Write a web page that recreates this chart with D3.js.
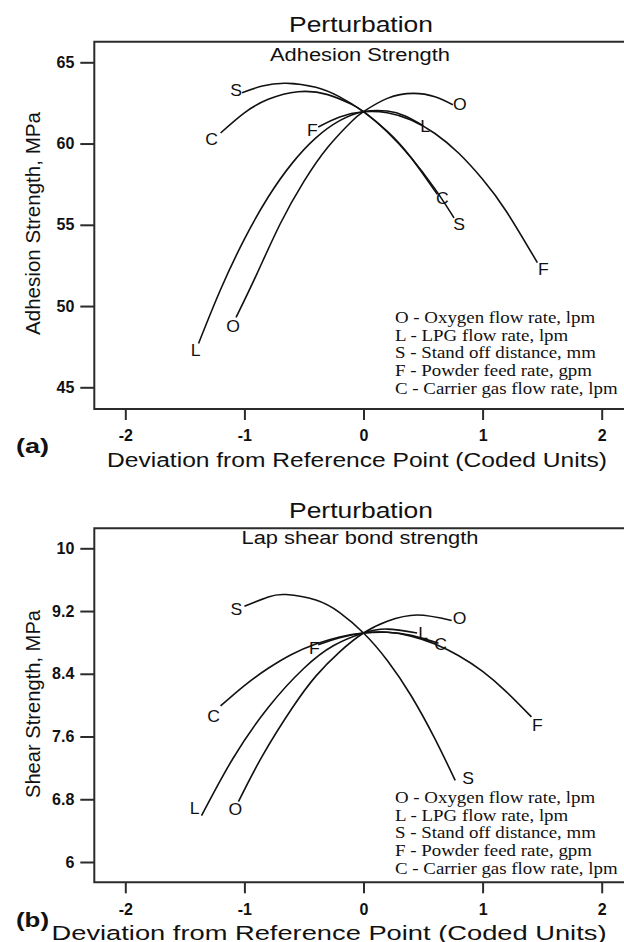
<!DOCTYPE html>
<html>
<head>
<meta charset="utf-8">
<script src="https://cdn.jsdelivr.net/npm/d3@7"></script>
<style>
  html, body { margin: 0; padding: 0; background: #fff; }
  svg { display: block; }
</style>
</head>
<body>
<svg id="chart" width="624" height="942"></svg>
<script>
// ---- data -------------------------------------------------------------
// deviation from the reference point, coded units
const xTicks = [-2, -1, 0, 1, 2];

const factorCodes = ["O", "L", "S", "F", "C"];
const factorNames = [
  "Oxygen flow rate, lpm",
  "LPG flow rate, lpm",
  "Stand off distance, mm",
  "Powder feed rate, gpm",
  "Carrier gas flow rate, lpm"
];

// (a) adhesion strength, MPa  [coded deviation, response]
const adhesionTicks = [45, 50, 55, 60, 65];
const adhesionO = [[-1.07, 49.3], [-0.9, 51.9], [-0.7, 55.05], [-0.5, 57.67], [-0.3, 59.77], [-0.1, 61.36], [0, 61.96], [0.2, 62.78], [0.42, 63.09], [0.6, 62.88], [0.75, 62.39]];
const adhesionL = [[-1.385, 47.7], [-1.2, 51.02], [-1.0, 54.12], [-0.8, 56.71], [-0.6, 58.78], [-0.4, 60.35], [-0.2, 61.41], [0, 61.96], [0.2, 62.0], [0.35, 61.69], [0.5, 61.1]];
const adhesionS = [[-1.02, 63.13], [-0.85, 63.54], [-0.65, 63.71], [-0.4, 63.46], [-0.2, 62.87], [0, 61.96], [0.2, 60.71], [0.4, 59.13], [0.6, 57.21], [0.76, 55.43]];
const adhesionF = [[-0.38, 61.02], [-0.2, 61.64], [0, 61.96], [0.2, 61.9], [0.4, 61.45], [0.6, 60.62], [0.8, 59.4], [1.0, 57.8], [1.2, 55.82], [1.46, 52.67]];
const adhesionC = [[-1.2, 60.65], [-1.0, 61.89], [-0.8, 62.72], [-0.55, 63.19], [-0.3, 63.01], [-0.1, 62.41], [0, 61.96], [0.2, 60.75], [0.4, 59.13], [0.62, 56.87]];

// (b) lap shear bond strength, MPa
const shearTicks = [6, 6.8, 7.6, 8.4, 9.2, 10];
const shearO = [[-1.05, 6.77], [-0.85, 7.35], [-0.6, 7.96], [-0.4, 8.37], [-0.2, 8.68], [0, 8.92], [0.2, 9.07], [0.45, 9.15], [0.74, 9.08]];
const shearL = [[-1.36, 6.59], [-1.1, 7.31], [-0.8, 7.97], [-0.5, 8.47], [-0.25, 8.76], [0, 8.92], [0.2, 8.97], [0.45, 8.92]];
const shearS = [[-1.0, 9.26], [-0.8, 9.38], [-0.65, 9.41], [-0.4, 9.34], [-0.2, 9.18], [0, 8.92], [0.2, 8.57], [0.4, 8.12], [0.6, 7.57], [0.77, 7.04]];
const shearF = [[-0.38, 8.77], [-0.2, 8.86], [0, 8.92], [0.2, 8.93], [0.4, 8.88], [0.6, 8.78], [0.8, 8.63], [1.0, 8.43], [1.2, 8.17], [1.41, 7.85]];
const shearC = [[-1.2, 7.99], [-1.0, 8.25], [-0.8, 8.47], [-0.6, 8.65], [-0.4, 8.78], [-0.2, 8.87], [0, 8.92], [0.2, 8.93], [0.4, 8.89], [0.63, 8.79]];

// ---- layout -----------------------------------------------------------
const SANS = "'Liberation Sans', Arial, Helvetica, sans-serif";
const SERIF = "'Liberation Serif', 'Times New Roman', serif";
const INK = "#111";
const FRAME = "#2b2b2b";

const panels = [
  {
    tag: "(a)", title: "Perturbation", subtitle: "Adhesion Strength", yTitle: "Adhesion Strength, MPa",
    frameTop: 41.7, frameBottom: 409, yDomain: [45, 65], yRange: [387.3, 62.3],
    ticks: adhesionTicks, series: [adhesionO, adhesionL, adhesionS, adhesionF, adhesionC],
    titleY: 32.3, subtitleY: 60.7, subtitleLen: 180, yTitleMid: 223.5, yTitleLen: 223,
    legendY: 323, xTitleY: 466.5, xTitleMid: 357, xTitleLen: 500, xTitleSize: 19.5, tagY: 453,
    // label-centre offsets (px) for [start, end] of each curve, in factor order
    offsets: [[[-3, 9], [7, 0]], [[-3, 7], [2, 1]], [[-6, -2], [5, 6]], [[-6, 3], [6, 7]], [[-9, 6], [5, 4]]]
  },
  {
    tag: "(b)", title: "Perturbation", subtitle: "Lap shear bond strength", yTitle: "Shear Strength, MPa",
    frameTop: 528.3, frameBottom: 882.3, yDomain: [6, 10], yRange: [862, 548.3],
    ticks: shearTicks, series: [shearO, shearL, shearS, shearF, shearC],
    titleY: 518.3, subtitleY: 544, subtitleLen: 237, yTitleMid: 704, yTitleLen: 188,
    legendY: 803, xTitleY: 939.5, xTitleMid: 329, xTitleLen: 555, xTitleSize: 20.5, tagY: 927,
    offsets: [[[-3, 8], [8, -2]], [[-7, -7], [6, 0]], [[-8, 3], [13, -2]], [[-4, 3], [6, 8]], [[-7, 10], [2, 1]]]
  }
];

const svg = d3.select("#chart");
svg.append("rect").attr("width", 624).attr("height", 942).attr("fill", "#fff");

const x = d3.scaleLinear().domain([-2, 2]).range([125.3, 601.7]);
const frameLeft = 94.3;
const frameRight = 640;

function addText(g, str, px, py, o) {
  let tf = `translate(${px},${py})`;
  if (o.rotate) tf += ` rotate(${o.rotate})`;
  if (o.sx) tf += ` scale(${o.sx},1)`;
  const t = g.append("text")
    .attr("transform", tf)
    .attr("font-family", o.family || SANS)
    .attr("font-size", o.size)
    .attr("font-weight", o.weight || "normal")
    .attr("text-anchor", o.anchor || "start")
    .attr("fill", INK)
    .text(str);
  if (o.len) t.attr("textLength", o.len).attr("lengthAdjust", "spacingAndGlyphs");
  if (o.dy) t.attr("dy", o.dy);
  return t;
}

panels.forEach(p => {
  const g = svg.append("g");
  const y = d3.scaleLinear().domain(p.yDomain).range(p.yRange);

  // frame (right edge runs off the canvas)
  g.append("path")
    .attr("d", `M${frameRight},${p.frameTop}H${frameLeft}V${p.frameBottom}H${frameRight}`)
    .attr("fill", "none").attr("stroke", FRAME).attr("stroke-width", 2);

  // y axis
  const yAxis = d3.axisLeft(y).tickValues(p.ticks).tickSize(14).tickPadding(6)
    .tickFormat(d => String(d));
  const ya = g.append("g").attr("transform", `translate(${frameLeft},0)`).call(yAxis);
  ya.select(".domain").remove();
  ya.selectAll(".tick line").attr("stroke", FRAME).attr("stroke-width", 2);
  ya.selectAll(".tick text").attr("font-family", SANS).attr("font-size", 16)
    .attr("font-weight", "bold").attr("fill", INK);

  // x axis
  const xAxis = d3.axisBottom(x).tickValues(xTicks).tickSize(11).tickPadding(10)
    .tickFormat(d => String(d));
  const xa = g.append("g").attr("transform", `translate(0,${p.frameBottom})`).call(xAxis);
  xa.select(".domain").remove();
  xa.selectAll(".tick line").attr("stroke", FRAME).attr("stroke-width", 2);
  xa.selectAll(".tick text").attr("font-family", SANS).attr("font-size", 16)
    .attr("font-weight", "bold").attr("fill", INK);

  // titles
  addText(g, p.title, 361, p.titleY, { size: 22, anchor: "middle", len: 144 });
  addText(g, p.subtitle, 360, p.subtitleY, { size: 18, anchor: "middle", len: p.subtitleLen });
  addText(g, "Deviation from Reference Point (Coded Units)", p.xTitleMid, p.xTitleY,
    { size: p.xTitleSize, anchor: "middle", len: p.xTitleLen });
  addText(g, p.yTitle, 40, p.yTitleMid, { size: 20.5, anchor: "middle", rotate: -90, len: p.yTitleLen });
  addText(g, p.tag, 16, p.tagY, { size: 20, weight: "bold", len: 33 });

  // perturbation curves
  const line = d3.line().x(d => x(d[0])).y(d => y(d[1])).curve(d3.curveNatural);
  p.series.forEach((s, i) => {
    g.append("path").datum(s)
      .attr("d", line)
      .attr("fill", "none").attr("stroke", INK).attr("stroke-width", 1.6);
    const ends = [s[0], s[s.length - 1]];
    ends.forEach((e, k) => {
      const off = p.offsets[i][k];
      addText(g, factorCodes[i], x(e[0]) + off[0], y(e[1]) + off[1],
        { size: 16, anchor: "middle", dy: "0.36em", sx: 1.1 });
    });
  });

  // factor key
  factorCodes.forEach((c, i) => {
    addText(g, `${c} - ${factorNames[i]}`, 395, p.legendY + i * 17.7,
      { size: 16, family: SERIF, sx: 1.18 });
  });
});
</script>
</body>
</html>
